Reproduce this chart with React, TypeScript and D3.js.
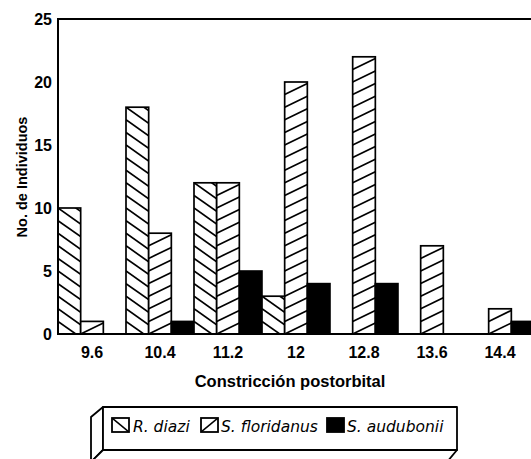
import React from "react";
import * as d3 from "d3";

const categories = ["9.6", "10.4", "11.2", "12", "12.8", "13.6", "14.4"];
const seriesNames = ["R. diazi", "S. floridanus", "S. audubonii"];
const rDiazi = [10, 18, 12, 3, 0, 0, 0];
const sFloridanus = [1, 8, 12, 20, 22, 7, 2];
const sAudubonii = [0, 1, 5, 4, 4, 0, 1];
const yTicks = [0, 5, 10, 15, 20, 25];

const W = 531;
const H = 459;
const left = 58;
const right = 534;
const top = 19;
const bottom = 334;
const font = "'Liberation Sans', Arial, sans-serif";
const legFont = "'DejaVu Sans', Verdana, sans-serif";

export default function App() {
  const x0 = d3.scaleBand<string>().domain(categories).range([left, right]).padding(0);
  const x1 = d3.scaleBand<string>().domain(seriesNames).range([0, x0.bandwidth()]).padding(0);
  const y = d3.scaleLinear().domain([0, 25]).range([bottom, top]);
  const bw = x1.bandwidth();
  const unit = y(0) - y(1);
  const series = [rDiazi, sFloridanus, sAudubonii];
  const slopes = [16, -11, 0];

  const bars: React.ReactNode[] = [];
  const clips: React.ReactNode[] = [];
  categories.forEach((c, i) => {
    seriesNames.forEach((s, j) => {
      const v = series[j][i];
      if (v <= 0) return;
      const bx = (x0(c) as number) + (x1(s) as number);
      const by = y(v);
      const bh = y(0) - y(v);
      const id = `clip-${i}-${j}`;
      if (j === 2) {
        bars.push(
          <rect key={id} x={bx} y={by} width={bw} height={bh} fill="#000" stroke="#000" strokeWidth={1.6} />
        );
        return;
      }
      clips.push(
        <clipPath id={id} key={id}>
          <rect x={bx} y={by} width={bw} height={bh} />
        </clipPath>
      );
      const d = slopes[j];
      const n = Math.ceil(v) + 3;
      bars.push(
        <g key={id}>
          <rect x={bx} y={by} width={bw} height={bh} fill="#fff" />
          <g clipPath={`url(#${id})`}>
            {d3.range(-2, n).map((k) => {
              const yb = y(0) - k * unit;
              return (
                <line key={k} x1={bx} y1={yb} x2={bx + bw} y2={yb + d} stroke="#000" strokeWidth={1.7} />
              );
            })}
          </g>
          <rect x={bx} y={by} width={bw} height={bh} fill="none" stroke="#000" strokeWidth={1.7} />
        </g>
      );
    });
  });

  const legX = [112, 201, 327];
  const legTx = [133, 221, 347];

  return (
    <svg width={W} height={H} style={{ position: "absolute", left: 0, top: 0, background: "#fff" }}>
      <defs>
        {clips}
        <clipPath id="leg0">
          <rect x={legX[0]} y={418} width={17} height={14} />
        </clipPath>
        <clipPath id="leg1">
          <rect x={legX[1]} y={418} width={17} height={14} />
        </clipPath>
      </defs>
      <rect width={W} height={H} fill="#fff" />
      {bars}
      {/* frame */}
      <line x1={left} y1={top} x2={W + 5} y2={top} stroke="#000" strokeWidth={2} />
      <line x1={left} y1={top - 1} x2={left} y2={bottom + 1} stroke="#000" strokeWidth={2} />
      <line x1={left} y1={bottom} x2={W + 5} y2={bottom} stroke="#000" strokeWidth={2} />
      {/* y ticks */}
      {yTicks.map((t) => (
        <text key={t} x={52} y={y(t) + 6} textAnchor="end" fontFamily={font} fontWeight="bold" fontSize={16}>
          {t}
        </text>
      ))}
      <text
        transform={`translate(27,177) rotate(-90)`}
        textAnchor="middle"
        fontFamily={font}
        fontWeight="bold"
        fontSize={14.5}
      >
        No. de Individuos
      </text>
      {/* x ticks */}
      {categories.map((c) => (
        <text
          key={c}
          x={(x0(c) as number) + x0.bandwidth() / 2}
          y={358}
          textAnchor="middle"
          fontFamily={font}
          fontWeight="bold"
          fontSize={16}
        >
          {c}
        </text>
      ))}
      <text x={290} y={387} textAnchor="middle" fontFamily={font} fontWeight="bold" fontSize={16.5}>
        Constricción postorbital
      </text>
      {/* legend box with 3D depth */}
      <g stroke="#000" strokeWidth={1.8} strokeLinejoin="round">
        <polygon points="103,407 91,417 91,462 103,450" fill="#fff" />
        <polygon points="103,450 91,462 447,462 457,450" fill="#fff" />
        <rect x={103} y={407} width={354} height={43} fill="#fff" />
      </g>
      {seriesNames.map((s, j) => (
        <g key={s}>
          {j === 2 ? (
            <rect x={legX[j]} y={418} width={17} height={14} fill="#000" stroke="#000" strokeWidth={1.8} />
          ) : (
            <g>
              <line
                x1={legX[j]}
                y1={j === 0 ? 418 : 432}
                x2={legX[j] + 17}
                y2={j === 0 ? 432 : 418}
                stroke="#000"
                strokeWidth={1.6}
                clipPath={`url(#leg${j})`}
              />
              <rect x={legX[j]} y={418} width={17} height={14} fill="none" stroke="#000" strokeWidth={1.8} />
            </g>
          )}
          <text x={legTx[j]} y={432} fontFamily={legFont} fontStyle="italic" fontSize={15.5}>
            {s}
          </text>
        </g>
      ))}
    </svg>
  );
}
